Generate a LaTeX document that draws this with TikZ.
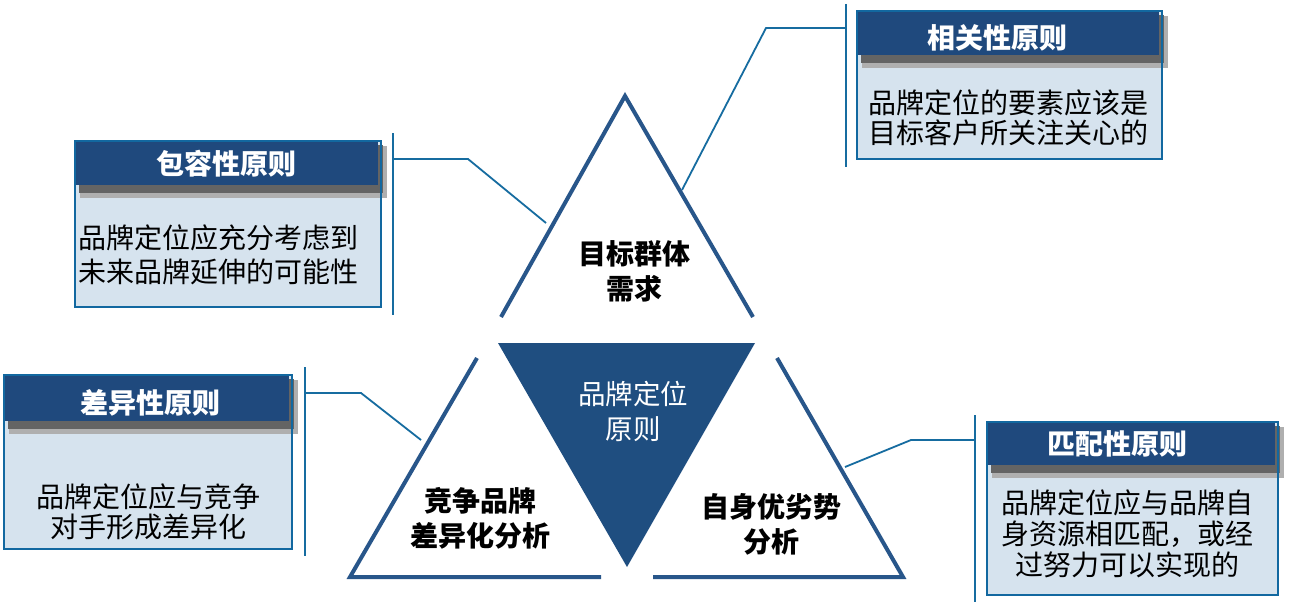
\documentclass[tikz,border=0pt]{standalone}
\usepackage{fontspec}
\newfontfamily\cjk{Noto Sans CJK SC}
\definecolor{hdr}{RGB}{31,73,125}
\definecolor{tricol}{RGB}{40,86,138}
\definecolor{ctrcol}{RGB}{31,78,128}
\definecolor{conn}{RGB}{22,108,160}
\definecolor{boxfill}{RGB}{214,227,238}
\definecolor{boxline}{RGB}{18,104,160}
\definecolor{shdark}{RGB}{100,100,100}
\definecolor{shlight}{RGB}{175,175,175}
\tikzset{
  tri/.style={line width=4pt, draw=tricol, line join=miter},
  connline/.style={line width=1.8pt, draw=conn},
  barline/.style={line width=2pt, draw=conn},
  boxborder/.style={line width=2pt, draw=boxline},
  ttl/.style={font=\cjk\bfseries\fontsize{28}{32}\selectfont, text=white, inner sep=0pt},
  bodytxt/.style={font=\cjk\fontsize{28}{30}\selectfont, text=black, inner sep=0pt},
  trilabel/.style={font=\cjk\bfseries\fontsize{28}{35}\selectfont, text=black, inner sep=0pt, align=center},
  ctrlabel/.style={font=\cjk\fontsize{27.5}{35}\selectfont, text=white, inner sep=0pt, align=center}
}
\newcommand{\prbox}[5]{% x1 y1 x2 y2 headerbottom
  \fill[boxfill] (#1,#2) rectangle (#3,#4);
  \fill[shlight] (#1+5,#2+5) rectangle (#3+6,#5+13);
  \fill[shdark] (#1+4,#2+4) rectangle (#3+2,#5+8);
  \fill[hdr] (#1,#2) rectangle (#3-3,#5);
  \draw[boxborder] (#1,#2) rectangle (#3,#4);
}
\begin{document}
\begin{tikzpicture}[x=1pt,y=-1pt]
\useasboundingbox (0,0) rectangle (1289,602);
\fill[white] (0,0) rectangle (1289,602);

% triangles
\coordinate (tA) at (625,96);
\coordinate (tL) at (501,317);
\coordinate (tR) at (753,317);
\draw[tri] (tL) -- (tA) -- (tR);
\coordinate (cA) at (498,343);
\coordinate (cB) at (755,343);
\coordinate (cC) at (627,567);
\fill[ctrcol] (cA) -- (cB) -- (cC) -- cycle;
\coordinate (lT) at (477,358);
\coordinate (lL) at (350,577);
\coordinate (lR) at (601,577);
\draw[tri] (lT) -- (lL) -- (lR);
\coordinate (rT) at (777,358);
\coordinate (rR) at (903,577);
\coordinate (rL) at (653,577);
\draw[tri] (rT) -- (rR) -- (rL);

% triangle labels
\node[trilabel] (lbTop) at (634,271) {目标群体\\需求};
\node[trilabel] (lbLeft) at (480,518) {竞争品牌\\差异化分析};
\node[trilabel] (lbRight) at (771,524) {自身优劣势\\分析};
\node[ctrlabel] (lbCtr) at (633,411) {品牌定位\\原则};

% connectors and bars
\coordinate (c1a) at (546,223);
\coordinate (c1b) at (468,159);
\coordinate (c1c) at (393,159);
\coordinate (bar1t) at (393,133);
\coordinate (bar1b) at (393,315);
\draw[connline] (c1a) -- (c1b) -- (c1c);
\draw[barline] (bar1t) -- (bar1b);

\coordinate (c2a) at (682,190);
\coordinate (c2b) at (766,28);
\coordinate (c2c) at (846,28);
\coordinate (bar2t) at (846,4);
\coordinate (bar2b) at (846,167);
\draw[connline] (c2a) -- (c2b) -- (c2c);
\draw[barline] (bar2t) -- (bar2b);

\coordinate (c3a) at (421,440);
\coordinate (c3b) at (361,393);
\coordinate (c3c) at (305,393);
\coordinate (bar3t) at (305,367);
\coordinate (bar3b) at (305,556);
\draw[connline] (c3a) -- (c3b) -- (c3c);
\draw[barline] (bar3t) -- (bar3b);

\coordinate (c4a) at (845,467);
\coordinate (c4b) at (911,440);
\coordinate (c4c) at (975,440);
\coordinate (bar4t) at (975,415);
\coordinate (bar4b) at (975,602);
\draw[connline] (c4a) -- (c4b) -- (c4c);
\draw[barline] (bar4t) -- (bar4b);

% boxes
\prbox{75}{141}{381}{307}{185}
\node[ttl] (t1) at (226,164) {包容性原则};
\node[bodytxt, anchor=west, align=left, font=\cjk\fontsize{28}{34}\selectfont] (b1) at (78,255) {品牌定位应充分考虑到\\未来品牌延伸的可能性};

\prbox{857}{11}{1162}{159}{55}
\node[ttl] (t2) at (997,38) {相关性原则};
\node[bodytxt, align=center] (b2) at (1008,118) {品牌定位的要素应该是\\目标客户所关注关心的};

\prbox{4}{375}{292}{549}{421}
\node[ttl] (t3) at (150,403) {差异性原则};
\node[bodytxt, align=center] (b3) at (148,512) {品牌定位应与竞争\\对手形成差异化};

\prbox{987}{422}{1278}{595}{465}
\node[ttl] (t4) at (1117,444) {匹配性原则};
\node[bodytxt, align=center, font=\cjk\fontsize{28}{31}\selectfont] (b4) at (1127,534) {品牌定位应与品牌自\\身资源相匹配，或经\\过努力可以实现的};
\end{tikzpicture}
\end{document}
